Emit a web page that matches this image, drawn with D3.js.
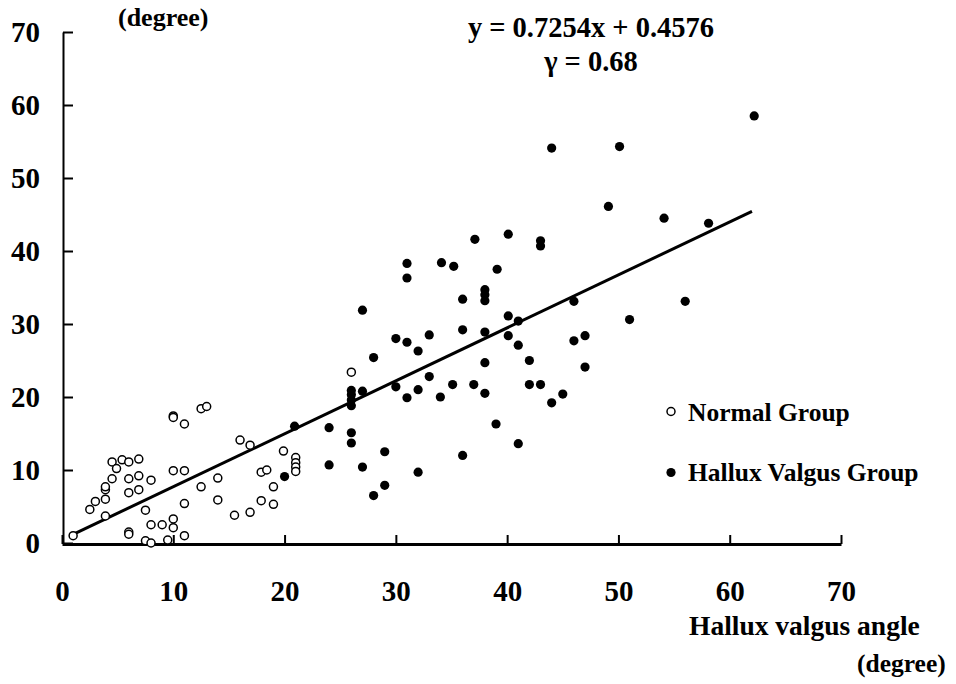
<!DOCTYPE html>
<html>
<head>
<meta charset="utf-8">
<script src="https://cdn.jsdelivr.net/npm/d3@7"></script>
<style>
  body { margin: 0; background: #fff; }
  svg text { font-family: "Liberation Serif", "Times New Roman", serif; font-weight: bold; fill: #000; }
</style>
</head>
<body>
<svg id="chart"></svg>
<script>
// [hallux valgus angle, y angle]
const normalGroup = [
  [1, 1.0], [2.5, 4.6], [3.0, 5.7], [3.9, 3.7], [3.9, 6.0], [3.9, 7.3], [3.9, 7.7],
  [4.5, 8.8], [4.5, 11.1], [4.9, 10.2], [5.4, 11.4], [6.0, 11.1], [6.9, 11.5],
  [6.0, 8.8], [6.9, 9.2], [8.0, 8.6], [6.0, 6.9], [6.9, 7.3], [7.5, 4.5],
  [6.0, 1.5], [6.0, 1.2], [8.0, 2.5], [9.0, 2.5], [10.0, 3.3], [10.0, 2.1],
  [7.5, 0.3], [8.0, 0.0], [9.5, 0.4], [11.0, 1.0], [10.0, 17.4], [10.0, 17.2],
  [11.0, 16.3], [12.5, 18.4], [13.0, 18.7], [10.0, 9.9], [11.0, 9.9], [12.5, 7.7],
  [11.0, 5.4], [14.0, 8.9], [14.0, 5.9], [16.0, 14.1], [16.9, 13.4], [19.9, 12.6],
  [21.0, 11.7], [21.0, 11.0], [21.0, 10.4], [21.0, 9.8], [17.9, 9.7], [18.4, 10.0],
  [19.0, 7.7], [17.9, 5.8], [19.0, 5.3], [15.5, 3.8], [16.9, 4.2], [26.0, 23.4]
];

const halluxGroup = [
  [20.9, 16.0], [20.0, 9.1], [31.0, 38.3], [34.1, 38.4], [35.2, 37.9], [31.0, 36.3],
  [36.0, 33.4], [27.0, 31.9], [36.0, 29.2], [30.0, 28.0], [31.0, 27.5], [33.0, 28.5],
  [32.0, 26.3], [28.0, 25.4], [26.0, 20.9], [26.0, 20.3], [26.0, 19.6], [26.0, 18.8],
  [27.0, 20.8], [30.0, 21.4], [33.0, 22.8], [32.0, 21.0], [31.0, 19.9], [35.1, 21.7],
  [34.0, 20.0], [24.0, 15.8], [26.0, 15.1], [26.0, 13.7], [29.0, 12.5], [36.0, 12.0],
  [24.0, 10.7], [27.0, 10.4], [32.0, 9.7], [29.0, 7.9], [28.0, 6.5], [37.1, 41.6],
  [40.1, 42.3], [43.0, 41.4], [43.0, 40.7], [39.1, 37.5], [38.0, 34.7], [38.0, 34.0],
  [38.0, 33.2], [46.0, 33.1], [40.1, 31.1], [41.0, 30.4], [38.0, 28.9], [40.1, 28.4],
  [41.0, 27.1], [46.0, 27.7], [47.0, 28.4], [38.0, 24.7], [42.0, 25.0], [47.0, 24.1],
  [37.0, 21.7], [38.0, 20.5], [42.0, 21.7], [43.0, 21.7], [45.0, 20.4], [44.0, 19.2],
  [39.0, 16.3], [41.0, 13.6], [62.2, 58.5], [50.1, 54.3], [44.0, 54.1], [49.1, 46.1],
  [54.1, 44.5], [58.1, 43.8], [56.0, 33.1], [51.0, 30.6]
];

const tickValues = [0, 10, 20, 30, 40, 50, 60, 70];
const slope = 0.7254;
const intercept = 0.4576;
const fitRange = [1, 62];
const equationLines = ["y = 0.7254x + 0.4576", "γ = 0.68"];
const legendLabels = ["Normal Group", "Hallux Valgus Group"];

const size = { width: 956, height: 684 };
const svg = d3.select("#chart").attr("width", size.width).attr("height", size.height);

const xScale = d3.scaleLinear().domain([0, 70]).range([62, 841]);
const yScale = d3.scaleLinear().domain([0, 70]).range([543, 32]);

const xAxis = d3.axisBottom(xScale).tickValues(tickValues).tickSizeInner(-9).tickSizeOuter(0).tickPadding(36);
const yAxis = d3.axisLeft(yScale).tickValues(tickValues).tickSizeInner(-10).tickSizeOuter(0).tickPadding(23);

const gx = svg.append("g").attr("transform", `translate(0, ${yScale(0) + 1})`).call(xAxis);
gx.select(".domain").attr("stroke-width", 3);
gx.selectAll(".tick line").attr("stroke-width", 2);
gx.selectAll(".tick text").style("font-size", "29px").attr("fill", "#000");

const gy = svg.append("g").attr("transform", `translate(${xScale(0) + 1}, 0)`).call(yAxis);
gy.select(".domain").attr("stroke-width", 2);
gy.selectAll(".tick line").attr("stroke-width", 2);
gy.selectAll(".tick text").style("font-size", "29px").attr("fill", "#000");

// regression line
svg.append("line")
  .attr("x1", xScale(fitRange[0])).attr("y1", yScale(slope * fitRange[0] + intercept))
  .attr("x2", xScale(fitRange[1])).attr("y2", yScale(slope * fitRange[1] + intercept))
  .attr("stroke", "#000").attr("stroke-width", 3);

svg.append("g").selectAll("circle").data(normalGroup).enter().append("circle")
  .attr("cx", d => xScale(d[0]))
  .attr("cy", d => yScale(d[1]))
  .attr("r", 4)
  .attr("fill", "#fff")
  .attr("stroke", "#000")
  .attr("stroke-width", 1.5);

svg.append("g").selectAll("circle").data(halluxGroup).enter().append("circle")
  .attr("cx", d => xScale(d[0]))
  .attr("cy", d => yScale(d[1]))
  .attr("r", 4.6)
  .attr("fill", "#000");

// equation
svg.append("g").selectAll("text").data(equationLines).enter().append("text")
  .attr("x", 591)
  .attr("y", (_, i) => 37 + i * 34)
  .attr("text-anchor", "middle")
  .style("font-size", "28.5px")
  .text(d => d);

svg.append("text").attr("x", 118).attr("y", 26).style("font-size", "26px").text("(degree)");
svg.append("text").attr("x", 689).attr("y", 635).style("font-size", "27.5px").text("Hallux valgus angle");
svg.append("text").attr("x", 857).attr("y", 672).style("font-size", "25.5px").text("(degree)");

// legend
const legend = svg.append("g").attr("transform", "translate(671, 0)");
legend.append("circle").attr("cx", 0).attr("cy", 411.5).attr("r", 4)
  .attr("fill", "#fff").attr("stroke", "#000").attr("stroke-width", 1.5);
legend.append("circle").attr("cx", 0).attr("cy", 472.5).attr("r", 4.6).attr("fill", "#000");
legend.selectAll("text").data(legendLabels).enter().append("text")
  .attr("x", 17)
  .attr("y", (_, i) => 421 + i * 60)
  .style("font-size", "25.5px")
  .text(d => d);
</script>
</body>
</html>
